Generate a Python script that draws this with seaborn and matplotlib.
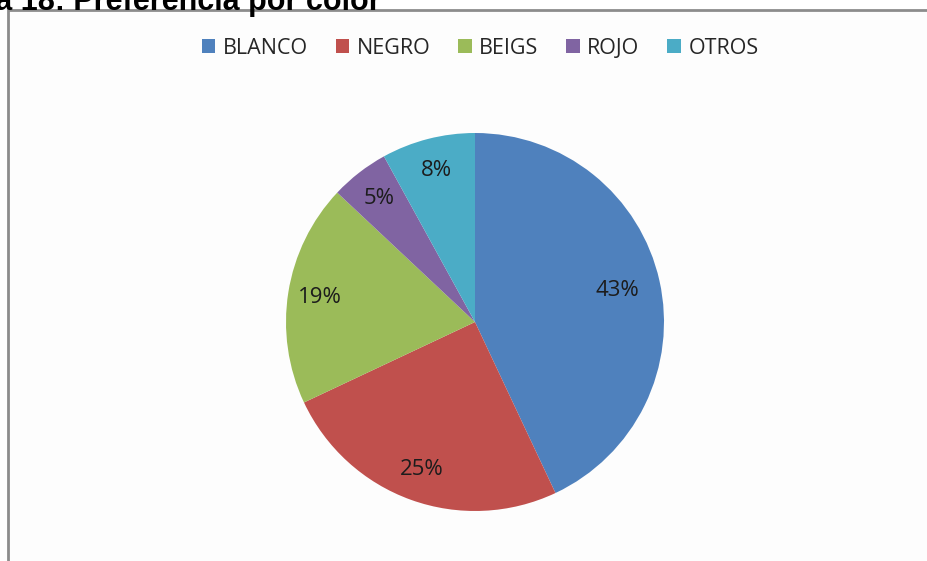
import matplotlib
matplotlib.use("Agg")
import matplotlib.pyplot as plt
import seaborn as sns
import numpy as np
from matplotlib.patches import Rectangle, Patch

categories = ["BLANCO", "NEGRO", "BEIGS", "ROJO", "OTROS"]
values = [43, 25, 19, 5, 8]
colors = ["#4F81BD", "#C0504D", "#9BBB59", "#8064A2", "#4BACC6"]
title = "Gráfica 18: Preferencia por color"
label_dist = [0.77, 0.83, 0.83, 0.83, 0.83]

sns.set_theme(style="white")
plt.rcParams['font.family'] = ['Open Sans', 'DejaVu Sans']

W, H = 928, 561
fig = plt.figure(figsize=(W / 100, H / 100), dpi=100)
fig.patch.set_facecolor("white")

# chart area frame
frame = Rectangle((8 / W, -0.1), 1.2, (H - 10) / H + 0.1, transform=fig.transFigure,
                  facecolor="#FDFDFD", edgecolor="#8C8C8C", linewidth=2.0, zorder=-5)
fig.patches.append(frame)

# clipped title
fig.text(-0.100, (H - 10) / H, title, fontsize=22, fontweight="bold",
         family=["Liberation Sans", "DejaVu Sans"], color="black", va="baseline", ha="left")

cx, cy, r = 475, 322, 189
ax = fig.add_axes([(cx - r) / W, (H - cy - r) / H, 2 * r / W, 2 * r / H])
ax.set_zorder(2)
wedges, texts, autotexts = ax.pie(
    values, colors=colors, startangle=90, counterclock=False,
    autopct=lambda p: f"{p:.0f}%", pctdistance=0.8,
    wedgeprops=dict(edgecolor="none", linewidth=0),
    textprops=dict(fontsize=16, color="#1c1c1c"))
for w, t, d in zip(wedges, autotexts, label_dist):
    ang = np.deg2rad((w.theta1 + w.theta2) / 2)
    t.set_position((d * np.cos(ang), d * np.sin(ang)))
ax.set_xlim(-1, 1)
ax.set_ylim(-1, 1)
ax.set_aspect("equal")
ax.axis("off")

handles = [Patch(facecolor=c, edgecolor="none") for c in colors]
leg = fig.legend(handles, categories, loc="center", bbox_to_anchor=(480 / W, (H - 48) / H),
                 ncol=5, frameon=False, fontsize=15.5, handlelength=0.62, handleheight=0.62,
                 handletextpad=0.35, columnspacing=1.3, labelcolor="#262626")
leg.set_zorder(3)

fig.savefig("out.png", dpi=100)
